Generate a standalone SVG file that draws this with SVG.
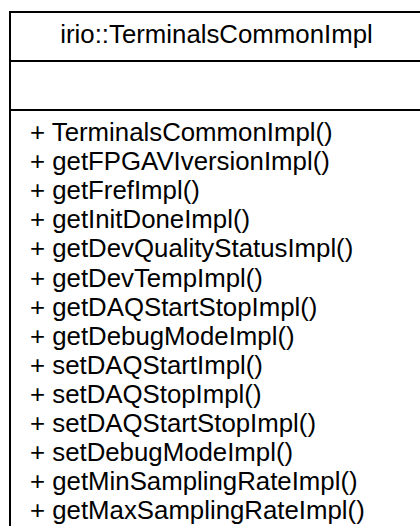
<svg xmlns="http://www.w3.org/2000/svg" width="420" height="526" viewBox="0 0 420 526">
<style>
.t{font-family:"Liberation Sans",Arial,Helvetica,sans-serif;font-size:25.8px;fill:#000}
.b{fill:#fff;stroke:#000;stroke-width:2}
</style>
<rect width="420" height="526" fill="#fff"/>
<g id="class-TerminalsCommonImpl">
<rect class="b" x="10" y="12" width="413" height="530"/>
<line x1="10" y1="61" x2="423" y2="61" stroke="#000" stroke-width="2"/>
<line x1="10" y1="110" x2="423" y2="110" stroke="#000" stroke-width="2"/>
<text class="t" x="216.5" y="43.3" text-anchor="middle">irio::TerminalsCommonImpl</text>
<text class="t" x="30" y="141">+ TerminalsCommonImpl()</text>
<text class="t" x="30" y="170.1">+ getFPGAVIversionImpl()</text>
<text class="t" x="30" y="199.2">+ getFrefImpl()</text>
<text class="t" x="30" y="228.3">+ getInitDoneImpl()</text>
<text class="t" x="30" y="257.4">+ getDevQualityStatusImpl()</text>
<text class="t" x="30" y="286.5">+ getDevTempImpl()</text>
<text class="t" x="30" y="315.6">+ getDAQStartStopImpl()</text>
<text class="t" x="30" y="344.7">+ getDebugModeImpl()</text>
<text class="t" x="30" y="373.8">+ setDAQStartImpl()</text>
<text class="t" x="30" y="402.9">+ setDAQStopImpl()</text>
<text class="t" x="30" y="432">+ setDAQStartStopImpl()</text>
<text class="t" x="30" y="461.1">+ setDebugModeImpl()</text>
<text class="t" x="30" y="490.2">+ getMinSamplingRateImpl()</text>
<text class="t" x="30" y="519.3">+ getMaxSamplingRateImpl()</text>
</g>
<g id="connectors"/>
</svg>
